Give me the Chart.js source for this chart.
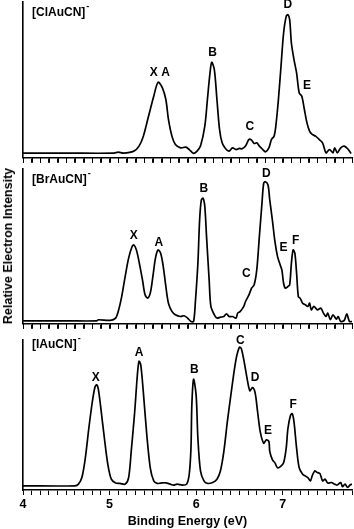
<!DOCTYPE html>
<html>
<head>
<meta charset="utf-8">
<script src="https://cdn.jsdelivr.net/npm/chart.js@4.4.1/dist/chart.umd.min.js"></script>
<style>
  html, body { margin: 0; padding: 0; background: #fff; }
  body { width: 354px; height: 529px; position: relative; overflow: hidden; }
  canvas { position: absolute; left: 0; }
  #ytitle {
    position: absolute; left: 8px; top: 246px;
    transform: translate(-50%, -50%) rotate(-90deg);
    font: bold 12.5px "Liberation Sans", Arial, sans-serif; white-space: nowrap; color: #000;
  }
</style>
</head>
<body>
<canvas id="c1" width="354" height="166" style="top:0px"></canvas>
<canvas id="c2" width="354" height="164" style="top:166px"></canvas>
<canvas id="c3" width="354" height="199" style="top:330px"></canvas>
<div id="ytitle">Relative Electron Intensity</div>
<script>
// ---------- DATA ----------
const energyCl = [4.00,4.51,5.05,5.10,5.16,5.28,5.34,5.39,5.45,5.51,5.56,5.61,5.65,5.68,5.72,5.76,5.82,5.88,5.92,5.97,6.01,6.05,6.10,6.13,6.16,6.18,6.21,6.24,6.27,6.30,6.34,6.38,6.42,6.46,6.50,6.53,6.57,6.61,6.64,6.67,6.70,6.73,6.77,6.80,6.84,6.87,6.90,6.92,6.95,6.98,7.01,7.04,7.06,7.08,7.10,7.13,7.16,7.19,7.22,7.25,7.28,7.31,7.34,7.38,7.42,7.46,7.50,7.54,7.58,7.60,7.63,7.67,7.71,7.75,7.79];
const intensityCl = [3.0,3.0,3.0,3.6,3.0,4.3,7.5,13.9,26.7,39.5,48.5,44.9,37.4,24.6,13.9,8.5,6.4,6.8,5.3,2.8,4.3,7.5,20.3,37.4,54.5,61.3,56.6,37.4,18.2,9.6,5.8,4.3,6.4,5.3,6.0,5.8,7.5,11.8,11.3,9.2,9.6,7.5,5.3,3.8,6.4,11.8,13.9,20.3,37.4,58.8,80.1,90.8,91.9,88.7,73.7,63.0,54.5,41.7,39.5,31.0,22.4,17.1,15.0,13.9,11.8,9.6,3.2,5.3,3.2,6.4,3.2,6.4,7.5,5.8,2.8];

const energyBr = [4.00,4.51,4.85,4.87,5.01,5.07,5.10,5.14,5.18,5.22,5.26,5.28,5.31,5.34,5.38,5.41,5.44,5.47,5.50,5.53,5.56,5.59,5.62,5.65,5.68,5.72,5.76,5.82,5.86,5.90,5.94,5.97,5.99,6.02,6.04,6.06,6.08,6.10,6.12,6.15,6.17,6.21,6.24,6.28,6.32,6.35,6.38,6.42,6.46,6.48,6.51,6.55,6.57,6.61,6.64,6.67,6.70,6.73,6.76,6.78,6.80,6.83,6.85,6.88,6.91,6.94,6.97,6.99,7.01,7.03,7.06,7.08,7.10,7.12,7.14,7.16,7.18,7.20,7.23,7.26,7.29,7.31,7.33,7.36,7.40,7.44,7.47,7.50,7.52,7.55,7.58,7.62,7.64,7.67,7.71,7.74,7.77,7.80];
const intensityBr = [1.9,1.9,1.9,2.6,2.2,3.7,8.0,17.6,30.5,42.4,49.9,51.0,47.7,40.2,28.4,18.7,16.6,19.8,30.5,42.4,47.7,45.6,37.0,24.1,13.3,8.0,5.8,4.7,5.2,3.7,1.5,1.5,13.3,39.1,67.1,80.0,81.1,75.7,56.3,28.4,11.2,5.8,3.7,4.3,4.7,6.5,4.7,4.7,3.7,6.9,8.0,11.2,14.4,18.7,23.0,25.2,34.8,56.3,77.8,90.8,91.8,89.7,80.0,67.1,53.1,43.4,38.1,34.8,26.2,23.0,24.1,25.2,39.1,47.7,45.6,32.7,17.6,16.6,13.3,12.3,11.2,13.3,9.0,11.2,9.0,10.1,6.9,4.7,6.9,2.6,5.8,3.0,4.7,1.5,2.2,6.5,1.5,1.5];

const energyI = [4.00,4.60,4.64,4.68,4.72,4.76,4.80,4.83,4.85,4.87,4.90,4.94,4.98,5.02,5.07,5.12,5.18,5.22,5.25,5.29,5.32,5.34,5.36,5.39,5.43,5.47,5.51,5.55,5.59,5.65,5.70,5.74,5.78,5.84,5.89,5.92,5.94,5.95,5.97,6.00,6.02,6.05,6.09,6.13,6.19,6.24,6.28,6.32,6.36,6.41,6.46,6.50,6.52,6.55,6.59,6.62,6.65,6.68,6.71,6.74,6.78,6.81,6.84,6.85,6.88,6.91,6.94,6.98,7.01,7.04,7.06,7.09,7.11,7.13,7.16,7.19,7.23,7.26,7.29,7.32,7.34,7.37,7.40,7.43,7.46,7.49,7.52,7.56,7.60,7.63,7.67,7.69,7.72,7.75,7.78,7.80];
const intensityI = [2.8,2.8,3.9,8.3,21.4,41.0,58.5,68.3,70.1,67.2,54.1,34.5,17.0,7.2,4.6,4.4,3.9,8.3,25.8,52.0,76.0,85.8,83.6,65.1,36.7,14.8,6.1,4.4,4.6,4.8,3.9,3.3,3.9,3.3,3.9,10.5,27.9,56.3,73.8,62.9,34.5,12.7,6.1,4.4,5.0,7.2,12.7,25.8,45.4,67.2,86.9,95.2,94.5,86.9,73.8,66.2,68.3,65.1,52.0,38.9,31.2,33.4,32.3,25.8,20.3,18.1,14.8,15.9,18.1,27.9,41.0,49.8,50.9,45.4,27.9,14.8,10.5,9.4,8.3,6.1,9.4,12.7,11.6,10.9,6.1,7.2,4.6,5.0,3.9,3.3,5.0,2.2,3.9,1.7,3.5,3.9];

// peak labels: names, energies, intensities
const peakNamesCl = ["X A","B","C","D","E"];
const peakXCl = [5.58,6.19,6.62,7.06,7.28];
const peakYCl = [54.9,67.7,19.7,98.3,46.4];

const peakNamesBr = ["X","A","B","C","D","E","F"];
const peakXBr = [5.28,5.57,6.09,6.58,6.81,7.01,7.15];
const peakYBr = [56.8,52.5,87.5,32.3,97.2,49.2,53.5];

const peakNamesI = ["X","A","B","C","D","E","F"];
const peakXI = [4.84,5.34,5.98,6.51,6.68,6.83,7.12];
const peakYI = [74.9,91.7,80.3,99.3,74.9,39.5,56.8];

const panelTitles = ["[ClAuCN]", "[BrAuCN]", "[IAuCN]"];
const xMin = 4, xMax = 7.8, xStep = 0.1;
const xTitle = "Binding Energy (eV)";

// ---------- RENDER ----------
const FONT = '"Liberation Sans", Arial, sans-serif';

const annotPlugin = {
  id: 'annot',
  afterDraw(chart) {
    const o = chart.options.plugins.annot;
    if (!o) return;
    const ctx = chart.ctx, xs = chart.scales.x, ys = chart.scales.y;
    ctx.save();
    // minor tick marks under upper panels, placed by the x scale
    if (o.drawTickMarks) {
      ctx.strokeStyle = '#000';
      ctx.lineWidth = 1;
      ctx.beginPath();
      xs.ticks.forEach(t => {
        const px = Math.round(xs.getPixelForValue(t.value)) + 0.5;
        ctx.moveTo(px, chart.chartArea.bottom);
        ctx.lineTo(px, chart.chartArea.bottom + 5);
      });
      ctx.stroke();
    }
    ctx.fillStyle = '#000';
    ctx.font = 'bold 12px ' + FONT;
    ctx.textAlign = 'center';
    ctx.textBaseline = 'middle';
    o.names.forEach((n, i) => {
      ctx.fillText(n, xs.getPixelForValue(o.xs[i]), ys.getPixelForValue(o.ys[i]));
    });
    // panel title with superscript minus
    const tx = chart.chartArea.left + 9, ty = chart.chartArea.top + o.titleOffset;
    ctx.textAlign = 'left';
    ctx.fillText(o.title, tx, ty);
    const w = ctx.measureText(o.title).width;
    ctx.font = 'bold 9px ' + FONT;
    ctx.fillText('-', tx + w + 1, ty - 6);
    ctx.restore();
  }
};

function makeChart(id, energies, intens, names, pxs, pys, title, titleOffset, bottom, pad) {
  const data = energies.map((e, i) => ({x: e, y: intens[i]}));
  return new Chart(document.getElementById(id), {
    type: 'line',
    data: { datasets: [{ data, borderColor: '#000', borderWidth: 1.7, pointRadius: 0, tension: 0.3, fill: false }] },
    plugins: [annotPlugin],
    options: {
      responsive: false, animation: false, devicePixelRatio: 1,
      layout: { padding: pad },
      plugins: {
        legend: { display: false }, tooltip: { enabled: false },
        annot: { names, xs: pxs, ys: pys, title, titleOffset, drawTickMarks: !bottom }
      },
      scales: {
        x: {
          type: 'linear', min: xMin, max: xMax,
          border: { display: true, color: '#000', width: 1.6 },
          grid: { display: true, drawOnChartArea: false, drawTicks: true, tickLength: 5, color: '#000', lineWidth: 1 },
          ticks: {
            display: true, stepSize: xStep, autoSkip: false, maxRotation: 0,
            padding: bottom ? 2 : 0, color: bottom ? '#000' : 'rgba(0,0,0,0)',
            font: { family: FONT, size: bottom ? 12.5 : 1, weight: 'bold' },
            callback: v => (bottom && Math.abs(v - Math.round(v)) < 1e-6 ? String(Math.round(v)) : '')
          },
          title: { display: bottom, text: xTitle, color: '#000', padding: {top: 0, bottom: 0},
                   font: { family: FONT, size: 12.5, weight: 'bold' } }
        },
        y: {
          min: 0, max: 100,
          border: { display: true, color: '#000', width: 1.6 },
          grid: { display: false, drawTicks: false },
          ticks: { display: false }
        }
      }
    }
  });
}

makeChart('c1', energyCl, intensityCl, peakNamesCl, peakXCl, peakYCl, panelTitles[0], 11, false,
  {left: 23, right: 2, top: 2, bottom: 2});
makeChart('c2', energyBr, intensityBr, peakNamesBr, peakXBr, peakYBr, panelTitles[1], 11, false,
  {left: 23, right: 2, top: 3, bottom: 0});
makeChart('c3', energyI, intensityI, peakNamesI, peakXI, peakYI, panelTitles[2], 5, true,
  {left: 23, right: 2, top: 10, bottom: 0});
</script>
</body>
</html>
